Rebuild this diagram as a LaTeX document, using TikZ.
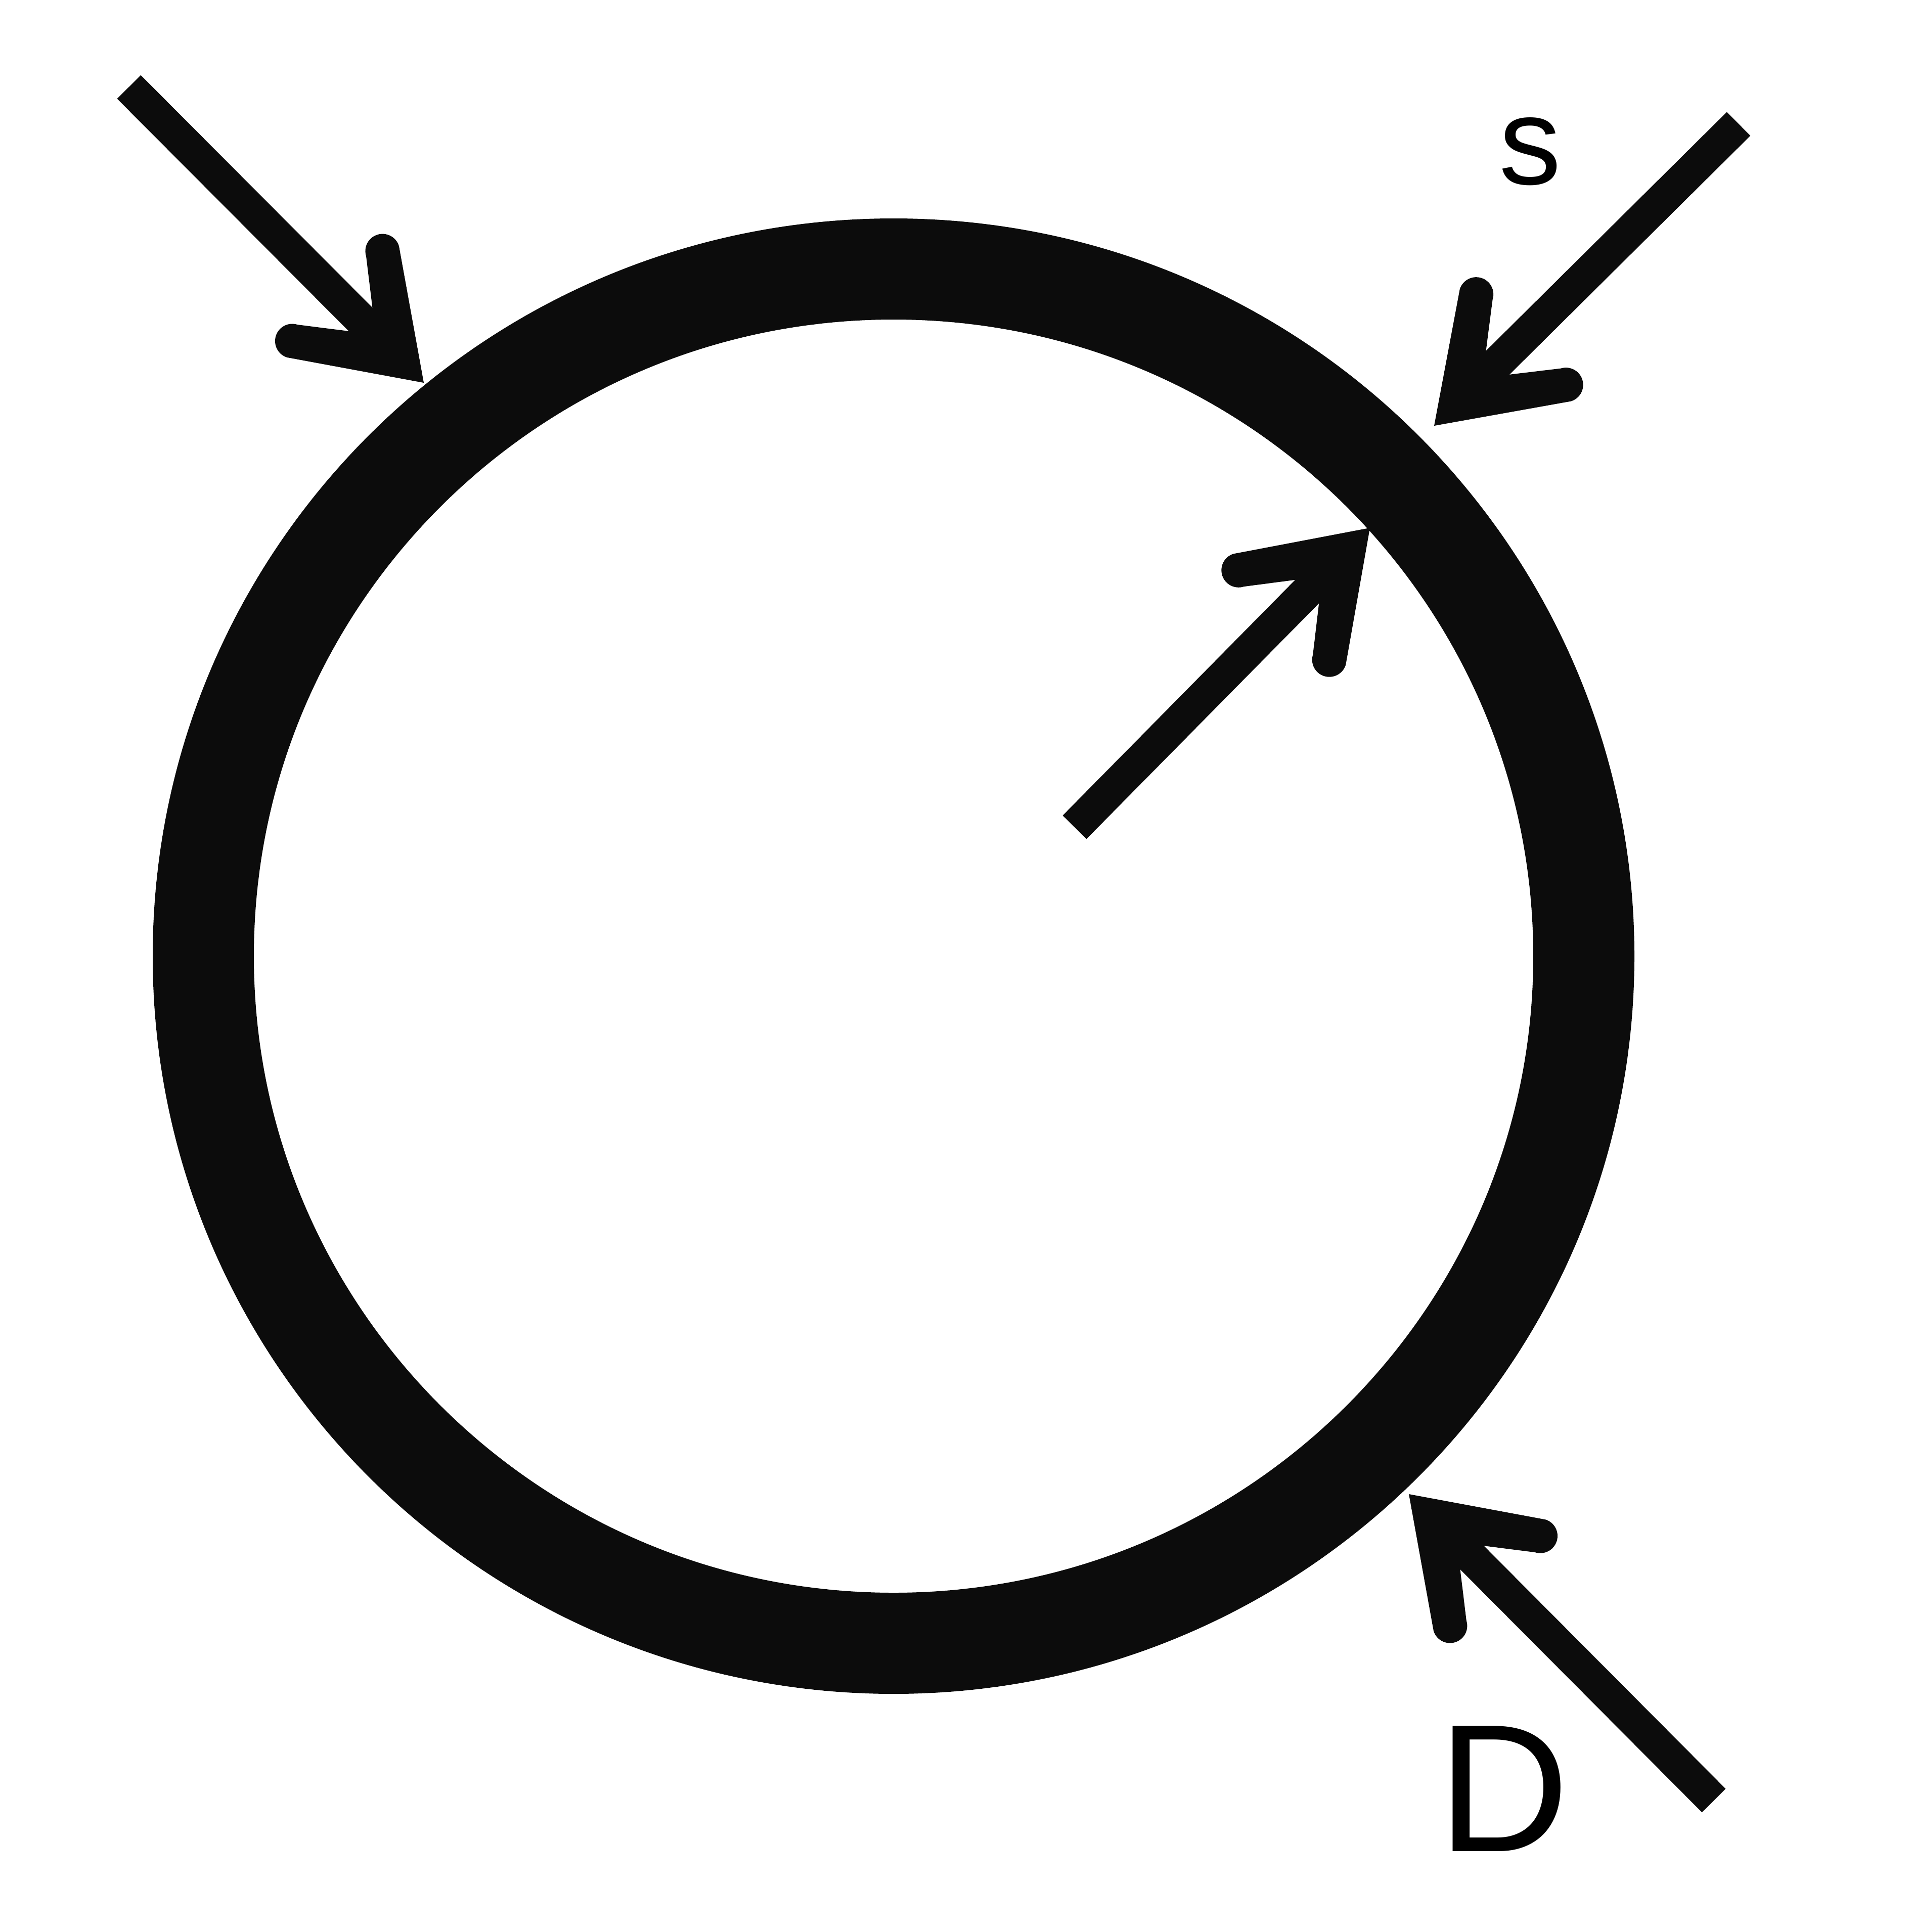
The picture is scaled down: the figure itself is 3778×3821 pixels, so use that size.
\documentclass[tikz,border=0pt]{standalone}
\usepackage{fontspec}
\setmainfont{Liberation Sans}
\usetikzlibrary{shapes.geometric}
\definecolor{ink}{RGB}{12,12,12}
\pgfdeclarearrow{
  name = RoundBarb,
  setup code = {
    \pgfarrowssettipend{0pt}
    \pgfarrowssetbackend{-292pt}
    \pgfarrowssetlineend{-165pt}
    \pgfarrowsupperhullpoint{-292pt}{162pt}
    \pgfarrowshullpoint{0pt}{0pt}
  },
  drawing code = {
    \pgfpathmoveto{\pgfpointorigin}
    \pgfpathlineto{\pgfpoint{-226.3pt}{156.2pt}}
    \pgfpatharc{62.5}{242.5}{34pt}
    \pgfpathlineto{\pgfpoint{-177pt}{33pt}}
    \pgfpathlineto{\pgfpoint{-177pt}{-33pt}}
    \pgfpathlineto{\pgfpoint{-257.7pt}{-95.8pt}}
    \pgfpatharc{117.5}{297.5}{34pt}
    \pgfpathclose
    \pgfusepathqfill
  },
}
\tikzset{
  arr/.style={draw=ink, fill=ink, line width=66pt, arrows={-RoundBarb}},
  ringstyle/.style={ellipse, draw=ink, line width=200pt, inner sep=0pt,
    minimum width=2730pt, minimum height=2718pt},
  lbl/.style={inner sep=0pt, anchor=base, text=black},
}
\begin{document}
\begin{tikzpicture}[x=1pt, y=-1pt]
  \useasboundingbox (0,0) rectangle (3778,3821);
  \node[ringstyle] (ring) at (1767,1891) {};
  % top-left arrow
  \coordinate (tlA) at (255,172);
  \coordinate (tlB) at (838,757);
  \draw[arr] (tlA) -- (tlB);
  % top-right arrow
  \coordinate (trA) at (3438,245);
  \coordinate (trB) at (2836,842);
  \draw[arr] (trA) -- (trB);
  % inner arrow
  \coordinate (inA) at (2125,1636);
  \coordinate (inB) at (2709,1044);
  \draw[arr] (inA) -- (inB);
  % bottom-right arrow
  \coordinate (brA) at (3389,3561);
  \coordinate (brB) at (2786,2955);
  \draw[arr] (brA) -- (brB);
  % labels
  \node[lbl, font=\fontsize{246}{260}\selectfont] (s) at (3026,364) {s};
  \node[lbl, font=\fontsize{360}{380}\selectfont] (D) at (2973,3661) {D};
\end{tikzpicture}
\end{document}
